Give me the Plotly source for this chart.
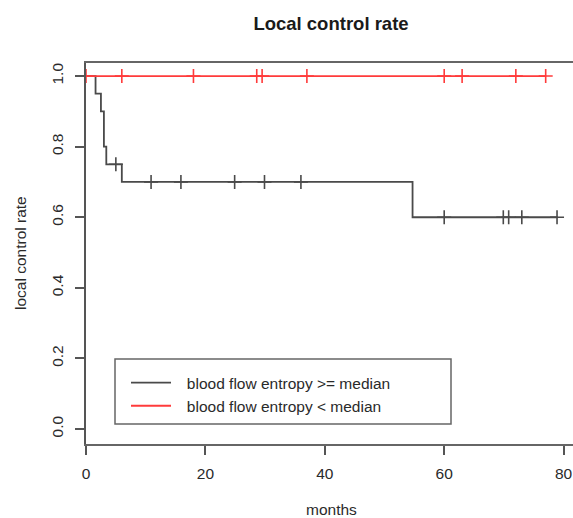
import plotly.graph_objects as go

# ---- data (Kaplan-Meier style curves) ----
high_event_times = [0.0, 1.6, 2.5, 3.0, 3.4, 6.0, 54.7]
high_survival = [1.0, 0.95, 0.90, 0.80, 0.75, 0.70, 0.60]
high_end_time = 79.0
high_censor_times = [5.0, 10.9, 15.9, 24.9, 29.9, 36.0, 60.0, 69.9, 70.8, 73.0, 78.9]

low_event_times = [0.0]
low_survival = [1.0]
low_end_time = 77.0
low_censor_times = [0.0, 6.0, 18.0, 28.6, 29.5, 37.0, 60.0, 63.0, 72.0, 77.0]

x_ticks = [0, 20, 40, 60, 80]
y_ticks = [0.0, 0.2, 0.4, 0.6, 0.8, 1.0]

series_names = ["blood flow entropy >= median", "blood flow entropy < median"]
series_colors = ["#4a4a4a", "#ff3b3b"]


def step_value(times, surv, t):
    v = surv[0]
    for ti, si in zip(times, surv):
        if ti <= t:
            v = si
    return v


W, H = 573, 518
L, R, T, B = 86, 0, 63, 74
plot_w = W - L - R
plot_h = H - T - B


def px_x(p):
    return (p - L) / plot_w


def px_y(p):
    return (H - B - p) / plot_h


fig = go.Figure()

groups = [
    (high_event_times, high_survival, high_end_time, high_censor_times),
    (low_event_times, low_survival, low_end_time, low_censor_times),
]

for i, (times, surv, end_t, cens) in enumerate(groups):
    xs = list(times) + [end_t]
    ys = list(surv) + [surv[-1]]
    fig.add_trace(go.Scatter(
        x=xs, y=ys, mode="lines", line_shape="hv",
        line=dict(color=series_colors[i], width=1.8),
        name="\u2002\u2009" + series_names[i], showlegend=True, legendrank=i,
    ))
for i, (times, surv, end_t, cens) in enumerate(groups):
    fig.add_trace(go.Scatter(
        x=cens, y=[step_value(times, surv, c) for c in cens], mode="markers",
        marker=dict(symbol="cross-thin", size=10,
                    line=dict(color=series_colors[i], width=1.6)),
        showlegend=False, hoverinfo="skip",
    ))

axis_font = dict(family="Liberation Sans, Arial, sans-serif", size=15.5, color="#2a2a2a")

fig.update_layout(
    width=W, height=H,
    margin=dict(l=L, r=R, t=T, b=B, pad=0),
    plot_bgcolor="white", paper_bgcolor="white",
    title=dict(text="<b>Local control rate</b>", x=331 / W, xanchor="center",
               xref="container", y=1 - 24 / H, yref="container", yanchor="middle",
               font=dict(family="Liberation Sans, Arial, sans-serif", size=18.5, color="#1a1a1a")),
    xaxis=dict(range=[0, (W - L) / 5.97], tickvals=x_ticks, ticktext=[str(v) for v in x_ticks],
               ticks="outside", ticklen=9, tickwidth=1.5, tickcolor="#555",
               showline=True, mirror=True, linecolor="#666", linewidth=1.6,
               showgrid=False, zeroline=False, tickfont=axis_font, ticklabelstandoff=6),
    yaxis=dict(range=[-0.0425, 1.037], tickvals=y_ticks, tickformat=".1f",
               ticks="outside", ticklen=9, tickwidth=1.5, tickcolor="#555",
               showline=True, linecolor="#555", linewidth=1.6,
               showgrid=False, zeroline=False, tickfont=axis_font, tickangle=-90,
               ticklabelstandoff=6),
    showlegend=True,
    legend=dict(x=px_x(126), y=px_y(366), xanchor="left", yanchor="top",
                bgcolor="rgba(0,0,0,0)", borderwidth=0,
                font=dict(family="Liberation Sans, Arial, sans-serif", size=15.5, color="#2a2a2a"),
                itemwidth=40, tracegroupgap=0),
    shapes=[dict(type="rect", xref="paper", yref="paper",
                 x0=px_x(115), x1=px_x(451), y0=px_y(424), y1=px_y(359),
                 line=dict(color="#666", width=1.5), fillcolor="rgba(0,0,0,0)")],
    annotations=[
        dict(text="months", xref="paper", yref="paper", x=px_x(331), y=px_y(509),
             xanchor="center", yanchor="middle", showarrow=False, font=axis_font),
        dict(text="local control rate", xref="paper", yref="paper", x=px_x(20), y=px_y(253),
             xanchor="center", yanchor="middle", showarrow=False, textangle=-90, font=axis_font),
    ],
)

fig.write_html("out.html", config={"displayModeBar": False},
               post_script="document.body.style.margin='0';document.body.style.overflow='hidden';")
